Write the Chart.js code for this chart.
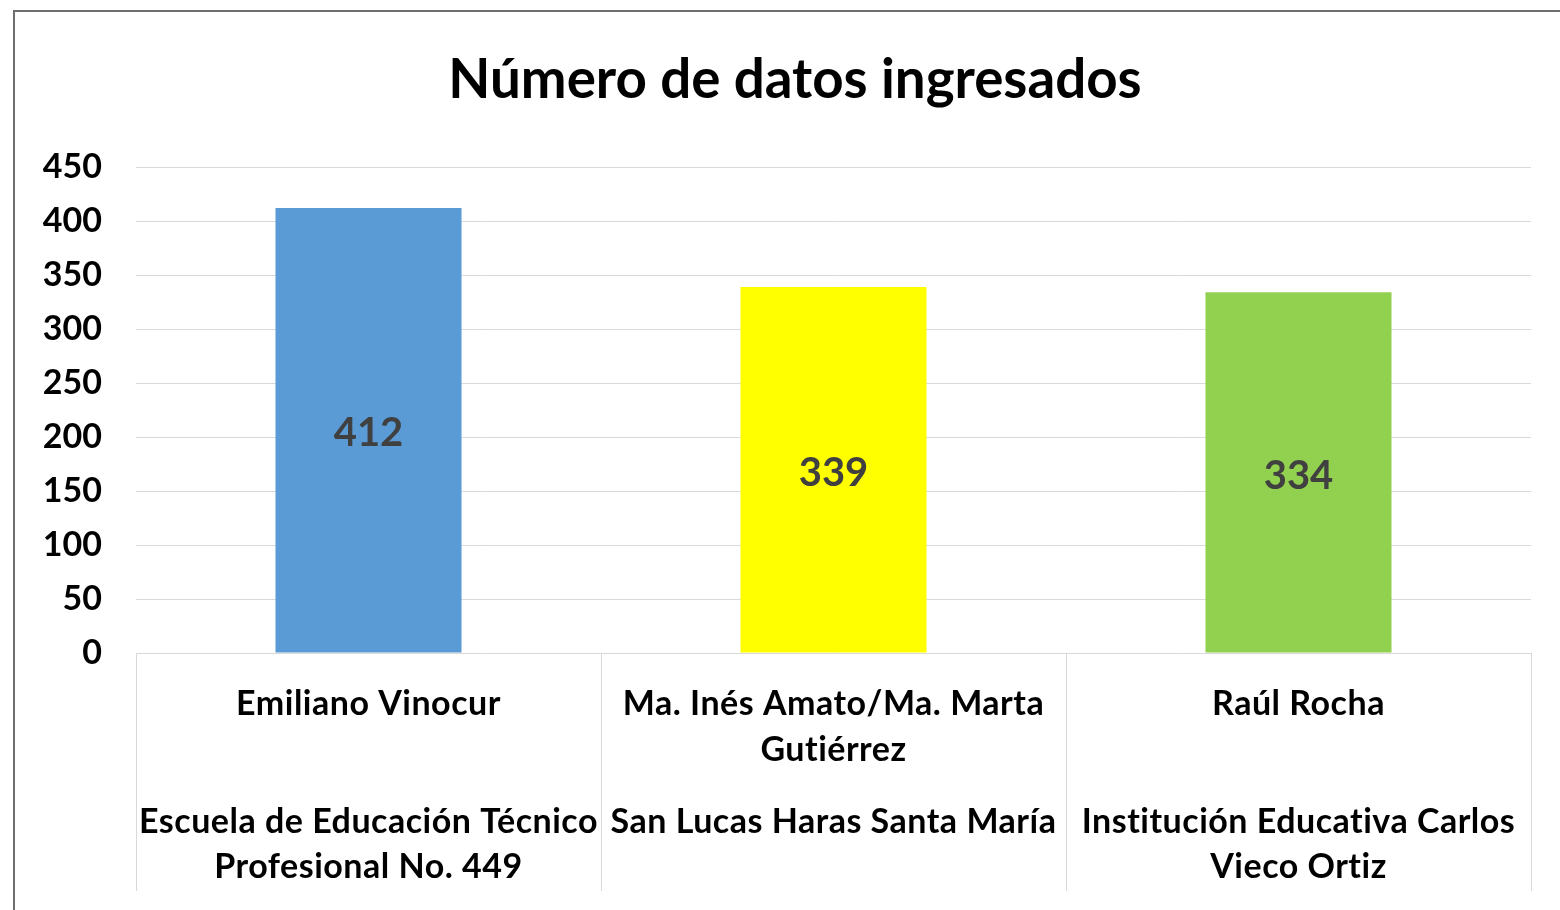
<!DOCTYPE html>
<html>
<head>
<meta charset="utf-8">
<script src="https://cdn.jsdelivr.net/npm/chart.js@4.4.1/dist/chart.umd.min.js"></script>
<style>
  html, body { margin: 0; padding: 0; background: #ffffff; }
  #wrap { position: relative; width: 1560px; height: 910px; overflow: hidden; background: #fff; }
  #frame { position: absolute; left: 13px; top: 10px; width: 1600px; height: 1000px;
           border-left: 2px solid #6e6e6e; border-top: 2px solid #6e6e6e; box-sizing: border-box; }
  canvas { position: absolute; left: 0; top: 0; }
</style>
</head>
<body>
<div id="wrap">
  <div id="frame"></div>
  <canvas id="c" width="1560" height="910"></canvas>
</div>
<script>
// ---- data ----
const chartTitle = "Número de datos ingresados";
const categories = ["Emiliano Vinocur", "Ma. Inés Amato/Ma. Marta Gutiérrez", "Raúl Rocha"];
const nameLines = [["Emiliano Vinocur"], ["Ma. Inés Amato/Ma. Marta", "Gutiérrez"], ["Raúl Rocha"]];
const schoolLines = [["Escuela de Educación Técnico", "Profesional No. 449"], ["San Lucas Haras Santa María"], ["Institución Educativa Carlos", "Vieco Ortiz"]];
const values = [412, 339, 334];
const barColors = ["#5B9BD5", "#FFFF00", "#92D050"];
const yMin = 0, yMax = 450, yStep = 50;

const FONT = "Lato, 'Open Sans', sans-serif";

const labelsPlugin = {
  id: 'excelLabels',
  afterDraw(chart) {
    const ctx = chart.ctx;
    const area = chart.chartArea;
    const xs = chart.scales.x;
    const ys = chart.scales.y;
    ctx.save();
    // title
    let tSize = 46;
    ctx.font = "bold " + tSize + "px " + FONT;
    const w = ctx.measureText(chartTitle).width;
    tSize = tSize * 693 / w;
    ctx.font = "bold " + tSize.toFixed(1) + "px " + FONT;
    ctx.fillStyle = "#000000";
    ctx.textAlign = "center";
    ctx.textBaseline = "middle";
    ctx.fillText(chartTitle, 795, 80);

    // category separators
    ctx.strokeStyle = "#d9d9d9";
    ctx.lineWidth = 1;
    const n = categories.length;
    for (let i = 0; i <= n; i++) {
      let x;
      if (i === 0) x = area.left;
      else if (i === n) x = area.right;
      else x = (xs.getPixelForValue(i - 1) + xs.getPixelForValue(i)) / 2;
      ctx.beginPath();
      ctx.moveTo(Math.round(x) + 0.5, area.bottom);
      ctx.lineTo(Math.round(x) + 0.5, area.bottom + 238);
      ctx.stroke();
    }

    // category labels
    ctx.font = "bold 34px " + FONT;
    if ('letterSpacing' in ctx) ctx.letterSpacing = "0.5px";
    ctx.fillStyle = "#000000";
    for (let i = 0; i < n; i++) {
      const cx = xs.getPixelForValue(i);
      nameLines[i].forEach((t, k) => ctx.fillText(t, cx, area.bottom + 51 + k * 46));
      schoolLines[i].forEach((t, k) => ctx.fillText(t, cx, area.bottom + 169 + k * 45));
    }
    if ('letterSpacing' in ctx) ctx.letterSpacing = "0px";

    // data labels
    ctx.font = "bold 40px " + FONT;
    ctx.fillStyle = "#404040";
    const meta = chart.getDatasetMeta(0);
    meta.data.forEach((bar, i) => {
      const yc = (ys.getPixelForValue(values[i]) + ys.getPixelForValue(0)) / 2;
      ctx.fillText(String(values[i]), bar.x, yc + 3);
    });
    ctx.restore();
  }
};

new Chart(document.getElementById('c'), {
  type: 'bar',
  data: {
    labels: categories,
    datasets: [{
      data: values,
      backgroundColor: barColors,
      borderWidth: 0,
      categoryPercentage: 1.0,
      barPercentage: 0.4
    }]
  },
  options: {
    responsive: false,
    animation: false,
    devicePixelRatio: 1,
    layout: { padding: { top: 167, bottom: 257, left: 0, right: 29 } },
    plugins: { legend: { display: false }, title: { display: false }, tooltip: { enabled: false } },
    scales: {
      x: { display: false },
      y: {
        min: yMin, max: yMax,
        afterFit(scale) { scale.width = 136; },
        border: { display: false },
        grid: { color: "#d9d9d9", lineWidth: 1, drawTicks: false },
        ticks: { stepSize: yStep, padding: 34, color: "#000000", font: { family: FONT, size: 34, weight: 'bold' } }
      }
    }
  },
  plugins: [labelsPlugin]
});
</script>
</body>
</html>
